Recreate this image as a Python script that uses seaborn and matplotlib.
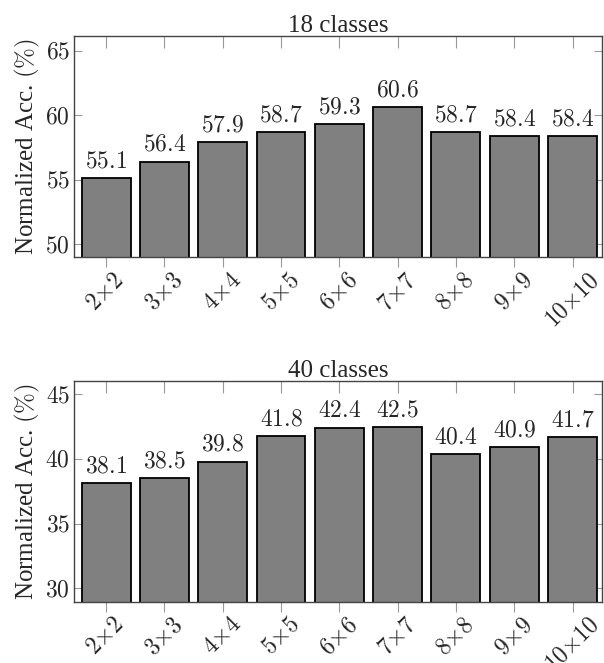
import matplotlib
matplotlib.use('Agg')
import matplotlib.pyplot as plt
import matplotlib.transforms as mtransforms
from matplotlib.ticker import FuncFormatter
import seaborn as sns

grids = ['2x2', '3x3', '4x4', '5x5', '6x6', '7x7', '8x8', '9x9', '10x10']
acc_18 = [55.1, 56.4, 57.9, 58.7, 59.3, 60.6, 58.7, 58.4, 58.4]
acc_40 = [38.1, 38.5, 39.8, 41.8, 42.4, 42.5, 40.4, 40.9, 41.7]
yticks_18 = [50, 55, 60, 65]
yticks_40 = [30, 35, 40, 45]

sns.set_style('white')
plt.rcParams['font.family'] = ['Liberation Serif', 'DejaVu Serif']
plt.rcParams['mathtext.fontset'] = 'cm'

fig = plt.figure(figsize=(6.04, 6.63), dpi=100)
ax1 = fig.add_axes([0.1225, 0.6119, 0.8737, 0.3338])
ax2 = fig.add_axes([0.1225, 0.0925, 0.8737, 0.3329])


def draw(ax, vals, ticks, ylim, title):
    sns.barplot(x=list(range(len(grids))), y=vals, color='#808080', saturation=1,
                edgecolor='black', linewidth=1.3, width=0.84, ax=ax)
    ax.set_ylim(*ylim)
    ax.set_xlim(-0.55, len(grids) - 0.5)
    ax.set_yticks(ticks)
    ax.yaxis.set_major_formatter(FuncFormatter(lambda v, p: f'${v:g}$'))
    ax.set_xticks(range(len(grids)))
    labs = [r'$%s{\times}%s$' % tuple(g.split('x')) for g in grids]
    ax.set_xticklabels(labs, rotation=45, ha='center', va='top', fontsize=17)
    shift = mtransforms.ScaledTranslation(5 / 100, 0, fig.dpi_scale_trans)
    for lab in ax.get_xticklabels():
        lab.set_transform(lab.get_transform() + shift)
    ax.tick_params(axis='y', labelsize=17, direction='in', left=True, right=True,
                   length=5.5, color='#999999', pad=3)
    ax.tick_params(axis='x', direction='out', bottom=True, top=True, length=7,
                   color='#999999', pad=2)
    # top ticks point inward
    for t in ax.xaxis.get_major_ticks():
        t.tick2line.set_marker(3)
        t.tick2line.set_markersize(8.5)
    for s in ax.spines.values():
        s.set_color('#444444')
        s.set_linewidth(1.0)
    ax.bar_label(ax.containers[0], fmt='${:.1f}$', padding=4, fontsize=17)
    ax.set_title(title, fontsize=18, pad=3)
    ax.set_ylabel(r'Normalized Acc. $(\%)$', fontsize=18, labelpad=2)
    ax.set_xlabel('')


draw(ax1, acc_18, yticks_18, (48.97, 66.14), '18 classes')
draw(ax2, acc_40, yticks_40, (28.96, 46.03), '40 classes')

fig.savefig('out.png', dpi=100)
